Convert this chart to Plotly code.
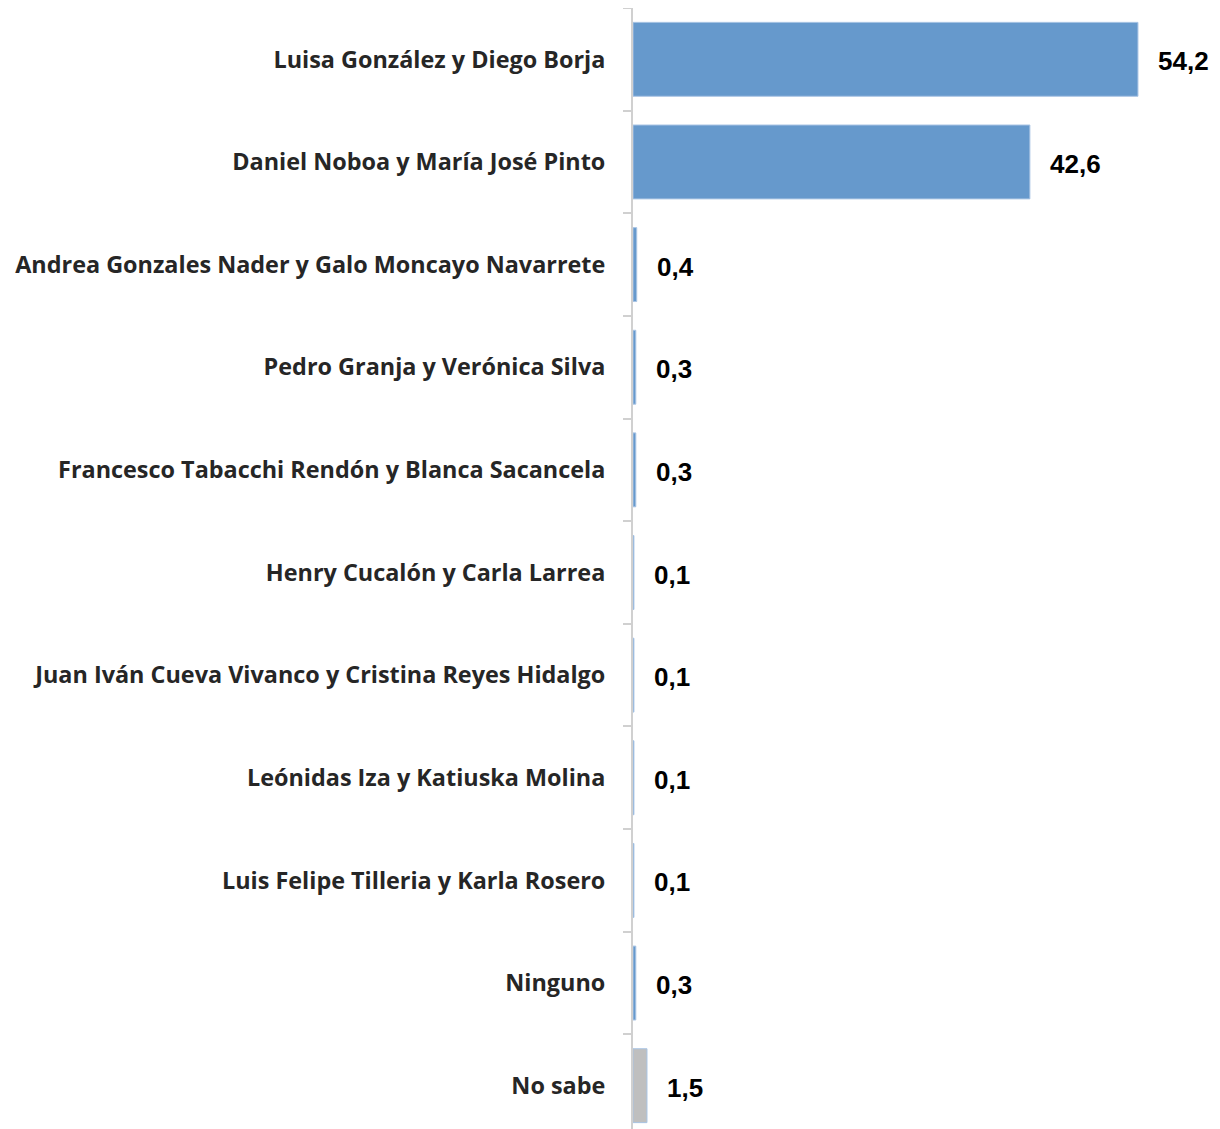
import plotly.graph_objects as go

candidates = [
    "Luisa González y Diego Borja",
    "Daniel Noboa y María José Pinto",
    "Andrea Gonzales Nader y Galo Moncayo Navarrete",
    "Pedro Granja y Verónica Silva",
    "Francesco Tabacchi Rendón y Blanca Sacancela",
    "Henry Cucalón y Carla Larrea",
    "Juan Iván Cueva Vivanco y Cristina Reyes Hidalgo",
    "Leónidas Iza y Katiuska Molina",
    "Luis Felipe Tilleria y Karla Rosero",
    "Ninguno",
    "No sabe",
]
percent = [54.2, 42.6, 0.4, 0.3, 0.3, 0.1, 0.1, 0.1, 0.1, 0.3, 1.5]

BLUE = "#6699CC"
GREY = "#BFBFBF"
bar_colors = [GREY if c == "No sabe" else BLUE for c in candidates]
value_text = [f"{v:.1f}".replace(".", ",") for v in percent]

fig = go.Figure()
fig.add_trace(go.Bar(
    y=candidates,
    x=percent,
    orientation="h",
    width=0.72,
    marker=dict(color=bar_colors, line=dict(color="#A9C4E4", width=1)),
    hoverinfo="x+y",
))

for cat, v, txt in zip(candidates, percent, value_text):
    fig.add_annotation(
        x=v, y=cat, text=f"<b>{txt}</b>", showarrow=False,
        xanchor="left", xshift=18, yshift=-2,
        font=dict(family="Liberation Sans, Arial, sans-serif", size=26, color="#000000"),
    )

# page body adds an 8px offset, so margins are trimmed accordingly
fig.update_layout(
    width=1212,
    height=1129,
    margin=dict(l=625, r=28, t=0, b=0),
    plot_bgcolor="white",
    paper_bgcolor="white",
    showlegend=False,
)
fig.update_xaxes(range=[0, 60], visible=False, showgrid=False, zeroline=False)
fig.update_yaxes(
    autorange="reversed",
    showline=True, linecolor="#D0D0D0", linewidth=2,
    ticks="outside", tickson="boundaries", ticklen=8, tickcolor="#D0D0D0", tickwidth=2,
    ticklabelstandoff=21,
    showgrid=False,
    tickfont=dict(family="'Open Sans', Lato, sans-serif", size=23.4, color="#262626", weight="bold"),
)

fig.write_html("out.html")
